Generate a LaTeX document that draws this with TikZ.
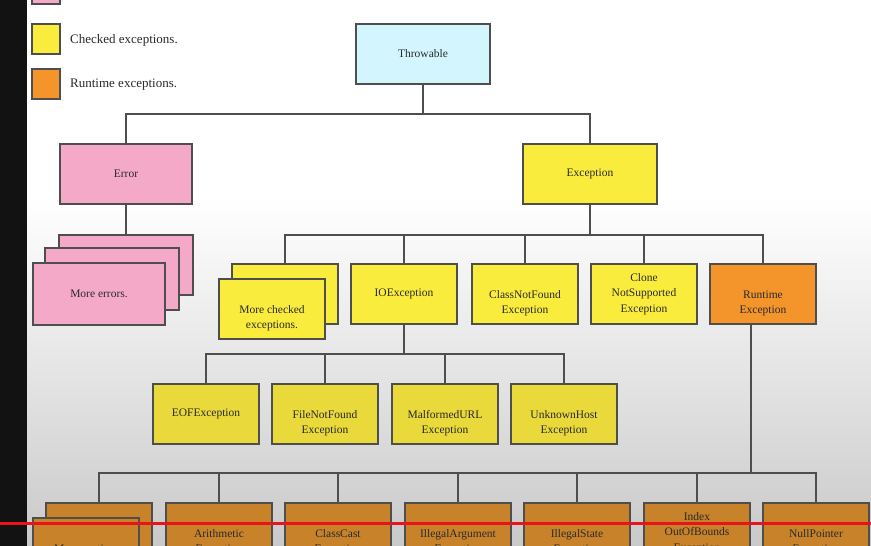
\documentclass[tikz,border=0pt]{standalone}
\usepackage{fontspec}
\setmainfont{Liberation Serif}
\definecolor{edge}{HTML}{4E4E4E}
\definecolor{txt}{HTML}{2A2A2A}
\definecolor{cyanbox}{HTML}{D3F5FD}
\definecolor{pinkbox}{HTML}{F4A9C9}
\definecolor{yelbox}{HTML}{FAEC3C}
\definecolor{yelbox2}{HTML}{E9D93A}
\definecolor{orabox}{HTML}{F3952A}
\definecolor{orabox2}{HTML}{C8822A}
\definecolor{bgbot}{HTML}{C9C9C9}
\definecolor{bgmid}{HTML}{E3E3E3}
\definecolor{redline}{HTML}{E8141C}
\pgfdeclareverticalshading{bgshade}{100bp}{color(0bp)=(bgbot); color(25bp)=(bgbot); color(40bp)=(bgmid); color(57bp)=(white); color(100bp)=(white)}
\newcommand\twol[2]{\strut\\#1\\#2}
\begin{document}
\begin{tikzpicture}[x=1pt,y=-1pt,
  box/.style={draw=edge, line width=2pt, minimum width=106pt, minimum height=60pt,
    inner sep=1pt, align=center, font=\fontsize{11.5}{15.5}\selectfont, text=txt},
  conn/.style={draw=edge, line width=2pt},
  legbox/.style={draw=edge, line width=2pt, minimum width=28pt, minimum height=30pt, inner sep=0pt},
  legtxt/.style={anchor=west, inner sep=0pt, font=\fontsize{13}{15}\selectfont, text=txt}]
\useasboundingbox (0,0) rectangle (871,546);
\clip (0,0) rectangle (871,546);
% background
\shade[shading=bgshade] (0,0) rectangle (871,546);
\fill[black!93] (0,0) rectangle (27,546);
% legend
\node[legbox, fill=pinkbox] (lp) at (46,-11) {};
\node[legbox, fill=yelbox] (ly) at (46,39) {};
\node[legtxt] (lyt) at (70,40) {Checked exceptions.};
\node[legbox, fill=orabox] (lo) at (46,84) {};
\node[legtxt] (lot) at (70,85) {Runtime exceptions.};
% top level
\node[box, fill=cyanbox, minimum width=134pt] (thr) at (423,54) {Throwable};
\node[box, fill=pinkbox, minimum width=132pt] (err) at (126,174) {Error};
\node[box, fill=yelbox, minimum width=134pt] (exc) at (590,174) {Exception};
% error stack
\node[box, fill=pinkbox, minimum width=134pt] (eb1) at (126,265) {};
\node[box, fill=pinkbox, minimum width=134pt, minimum height=62pt] (eb2) at (112,279) {};
\node[box, fill=pinkbox, minimum width=132pt, minimum height=62pt] (eb3) at (99,294) {More errors.};
% exception children
\node[box, fill=yelbox] (mcb) at (285,294) {};
\node[box, fill=yelbox] (mcf) at (272,309) {\twol{More checked}{exceptions.}};
\node[box, fill=yelbox] (io) at (404,294) {IOException};
\node[box, fill=yelbox] (cnf) at (525,294) {\twol{ClassNotFound}{Exception}};
\node[box, fill=yelbox] (cns) at (644,294) {Clone\\NotSupported\\Exception};
\node[box, fill=orabox] (rt) at (763,294) {\twol{Runtime}{Exception}};
% IO children
\node[box, fill=yelbox2] (eof) at (206,414) {EOFException};
\node[box, fill=yelbox2] (fnf) at (325,414) {\twol{FileNotFound}{Exception}};
\node[box, fill=yelbox2] (murl) at (445,414) {\twol{MalformedURL}{Exception}};
\node[box, fill=yelbox2] (uh) at (564,414) {\twol{UnknownHost}{Exception}};
% runtime children
\node[box, fill=orabox2] (ub) at (99,533) {};
\node[box, fill=orabox2] (uf) at (86,548) {\twol{More runtime}{exceptions.}};
\node[box, fill=orabox2] (ari) at (219,533) {\twol{Arithmetic}{Exception}};
\node[box, fill=orabox2] (cc) at (338,533) {\twol{ClassCast}{Exception}};
\node[box, fill=orabox2] (ia) at (458,533) {\twol{IllegalArgument}{Exception}};
\node[box, fill=orabox2] (is) at (577,533) {\twol{IllegalState}{Exception}};
\node[box, fill=orabox2] (ioob) at (697,533) {Index\\OutOfBounds\\Exception};
\node[box, fill=orabox2] (np) at (816,533) {\twol{NullPointer}{Exception}};
% connectors
\coordinate (j1) at (423,114);
\draw[conn] (thr.south) -- (j1);
\draw[conn] (err.north) |- (j1) -| (exc.north);
\draw[conn] (err.south) -- (eb1.north);
\coordinate (j2) at (590,235);
\draw[conn] (exc.south) -- (j2);
\draw[conn] (mcb.north) |- (j2) -| (rt.north);
\draw[conn] (io.north) -- (io.north |- j2);
\draw[conn] (cnf.north) -- (cnf.north |- j2);
\draw[conn] (cns.north) -- (cns.north |- j2);
\coordinate (j3) at (404,354);
\draw[conn] (io.south) -- (j3);
\draw[conn] (eof.north) |- (j3) -| (uh.north);
\draw[conn] (fnf.north) -- (fnf.north |- j3);
\draw[conn] (murl.north) -- (murl.north |- j3);
\coordinate (j4) at (751,473);
\coordinate (rts) at (751,324);
\draw[conn] (rts) -- (j4);
\draw[conn] (ub.north) |- (j4) -| (np.north);
\draw[conn] (ari.north) -- (ari.north |- j4);
\draw[conn] (cc.north) -- (cc.north |- j4);
\draw[conn] (ia.north) -- (ia.north |- j4);
\draw[conn] (is.north) -- (is.north |- j4);
\draw[conn] (ioob.north) -- (ioob.north |- j4);
% red line
\coordinate (rl1) at (0,523);
\coordinate (rl2) at (871,523);
\draw[redline, line width=3pt] (rl1) -- (rl2);
\end{tikzpicture}
\end{document}
